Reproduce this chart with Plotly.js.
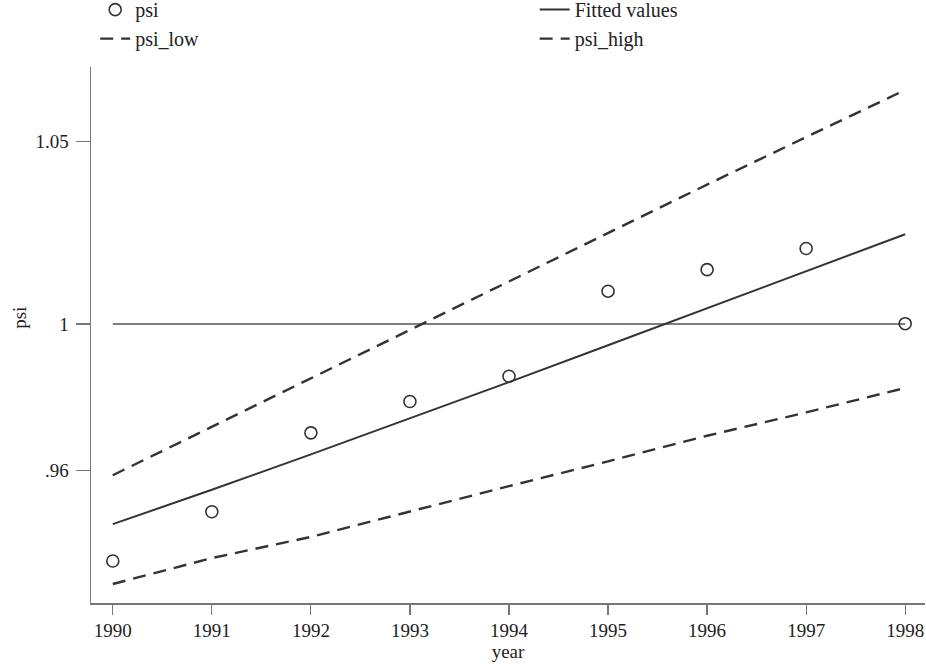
<!DOCTYPE html>
<html>
<head>
<meta charset="utf-8">
<script src="https://cdn.plot.ly/plotly-3.0.1.min.js"></script>
<style>html,body{margin:0;padding:0;background:#fff}#chart{width:926px;height:664px}</style>
</head>
<body>
<div id="chart"></div>
<script>
const years = [1990, 1991, 1992, 1993, 1994, 1995, 1996, 1997, 1998];
const psi = [0.9351, 0.9486, 0.9702, 0.9788, 0.9857, 1.0090, 1.0149, 1.0207, 1.0001];
const fitted = [0.9452, 0.9546, 0.9643, 0.9741, 0.9841, 0.9942, 1.0044, 1.0146, 1.0246];
const psiLow = [0.9288, 0.9359, 0.9417, 0.9487, 0.9556, 0.9624, 0.9694, 0.9758, 0.9825];
const psiHigh = [0.9586, 0.9719, 0.9851, 0.9984, 1.0116, 1.0249, 1.0382, 1.0512, 1.0641];
const refYears = [1990, 1998];
const refLevel = [1, 1];
const yTickVals = [0.96, 1, 1.05];
const yTickText = ['.96', '1', '1.05'];
const yTitle = 'psi';
const xTitle = 'year';

const ink = '#333333';
const fontFam = '"Liberation Serif", "Times New Roman", serif';

const traces = [
  {x: refYears, y: refLevel, mode: 'lines', showlegend: false, hoverinfo: 'skip',
   line: {color: '#555555', width: 1.4}},
  {x: years, y: psi, name: 'psi', mode: 'markers', legend: 'legend',
   marker: {symbol: 'circle-open', size: 12, color: ink, line: {width: 1.6, color: ink}}},
  {x: years, y: psiLow, name: 'psi_low', mode: 'lines', legend: 'legend',
   line: {color: ink, width: 2.4, dash: '13px,8px'}},
  {x: years, y: fitted, name: 'Fitted values', mode: 'lines', legend: 'legend2',
   line: {color: ink, width: 2}},
  {x: years, y: psiHigh, name: 'psi_high', mode: 'lines', legend: 'legend2',
   line: {color: ink, width: 2.4, dash: '13px,8px'}}
];

const legendCommon = {
  xref: 'container', yref: 'paper', xanchor: 'left', yanchor: 'top',
  orientation: 'v', bgcolor: 'rgba(0,0,0,0)', borderwidth: 0,
  font: {family: fontFam, size: 20, color: '#222'}, tracegroupgap: 0, itemwidth: 30
};

const layout = {
  width: 926, height: 664,
  margin: {l: 91, r: 1, t: 67, b: 61, autoexpand: false},
  paper_bgcolor: '#ffffff', plot_bgcolor: '#ffffff',
  font: {family: fontFam, size: 19, color: '#222'},
  legend: Object.assign({}, legendCommon, {x: 0.1028, y: 1.1435}),
  legend2: Object.assign({}, legendCommon, {x: 0.5774, y: 1.1435}),
  xaxis: {
    range: [1989.78, 1998.2], tickvals: years, ticktext: years.map(String),
    showgrid: false, zeroline: false, showline: true, linecolor: '#777', linewidth: 1.5,
    ticks: 'outside', ticklen: 10, tickwidth: 1.2, tickcolor: '#777', tickangle: 0,
    tickfont: {family: fontFam, size: 19, color: '#222'},
    title: {text: xTitle, font: {family: fontFam, size: 19, color: '#222'}, standoff: 2}
  },
  yaxis: {
    range: [0.9236, 1.0704], tickvals: yTickVals, ticktext: yTickText,
    showgrid: false, zeroline: false, showline: true, linecolor: '#777', linewidth: 1.5,
    ticks: 'outside', ticklen: 14, tickwidth: 1.2, tickcolor: '#777',
    ticklabelstandoff: 3,
    tickfont: {family: fontFam, size: 19, color: '#222'}
  },
  annotations: [{
    text: yTitle, xref: 'paper', yref: 'paper', x: -0.0851, y: 0.532,
    xanchor: 'center', yanchor: 'middle', textangle: -90, showarrow: false,
    font: {family: fontFam, size: 19, color: '#222'}
  }],
  showlegend: true
};

Plotly.newPlot('chart', traces, layout, {displayModeBar: false, staticPlot: true});
</script>
</body>
</html>
